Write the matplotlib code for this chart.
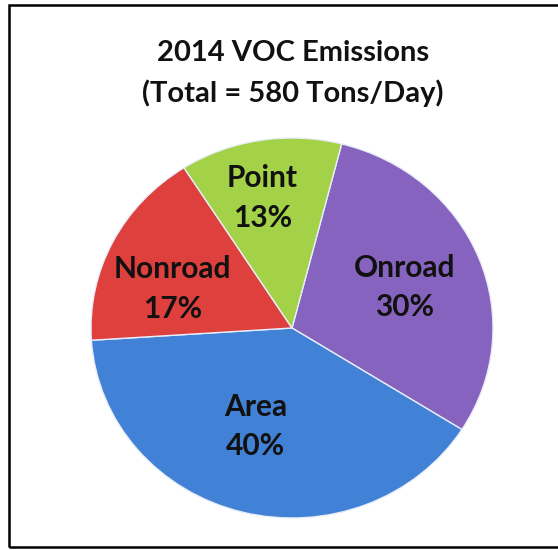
import matplotlib
matplotlib.use("Agg")
import matplotlib.pyplot as plt
from matplotlib.patches import Rectangle
import numpy as np

categories = ["Onroad", "Area", "Nonroad", "Point"]
shares = [30, 40, 17, 13]
colors = ["#8763c0", "#4282d6", "#de413d", "#a3d148"]
title_lines = ["2014 VOC Emissions", "(Total = 580 Tons/Day)"]
label_radius = [0.6, 0.55, 0.63, 0.70]
label_shift = [-1.0, -5.0, 8.0, 3.0]

plt.rcParams['font.family'] = ['Lato', 'DejaVu Sans']

fig = plt.figure(figsize=(5.58, 5.5), dpi=100)
fig.patch.set_facecolor("white")

# frame
fig.patches.append(Rectangle((9/558, 3/550), 1.2, 542/550, transform=fig.transFigure,
                             fill=False, edgecolor="black", linewidth=1.8))

ax = fig.add_axes([(292-201)/558, (550-328-190)/550, 402/558, 380/550])
wedges, _ = ax.pie(shares, colors=colors, startangle=75.7, counterclock=False,
                   wedgeprops=dict(edgecolor="#e8eef8", linewidth=1.0))
ax.set_aspect('auto')
ax.set_xlim(-1, 1)
ax.set_ylim(-1, 1)

for w, name, s, r, sh in zip(wedges, categories, shares, label_radius, label_shift):
    mid = np.deg2rad((w.theta1 + w.theta2) / 2 + sh)
    ax.text(r * np.cos(mid), r * np.sin(mid), f"{name}\n{s}%", ha="center", va="center",
            fontsize=21.5, fontweight="bold", color="#111111", linespacing=1.5)

fig.text(293/558, 1 - 53/550, title_lines[0], ha="center", va="center",
         fontsize=21, fontweight="bold", color="#111111")
fig.text(293/558, 1 - 93/550, title_lines[1], ha="center", va="center",
         fontsize=21, fontweight="bold", color="#111111")

fig.savefig("out.png", dpi=100, facecolor="white")
